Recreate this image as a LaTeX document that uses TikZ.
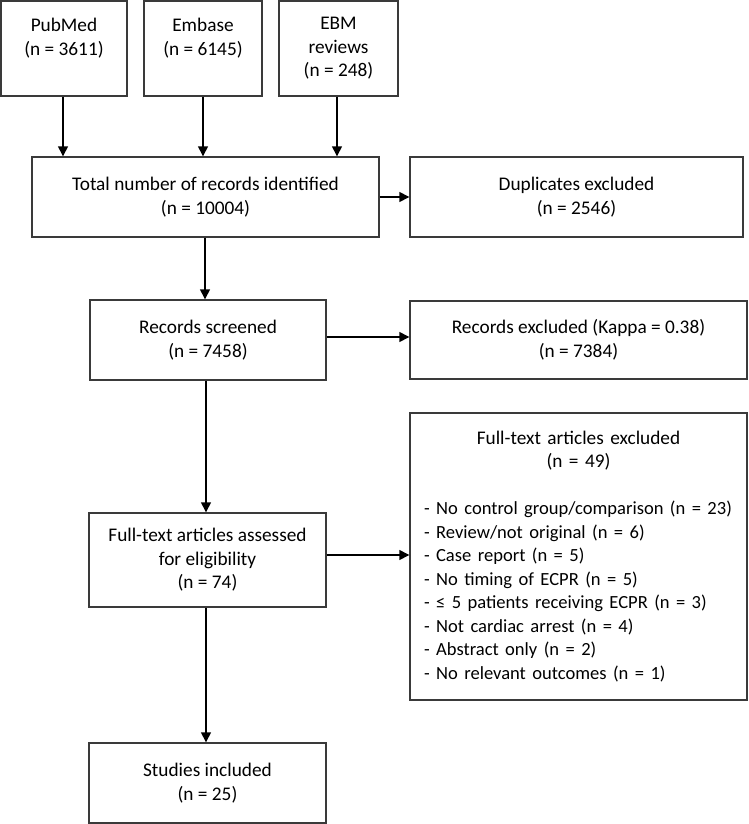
\documentclass[tikz,border=0pt]{standalone}
\usepackage{fontspec}
\setmainfont{Carlito}
\usetikzlibrary{arrows.meta}
\definecolor{boxline}{HTML}{3A3A3A}
\newcommand{\itemfont}{\fontsize{18.55}{23.5}\selectfont}
\begin{document}
\begin{tikzpicture}[x=1pt,y=-1pt,
  box/.style={draw=boxline,line width=1.4pt,inner sep=0pt,align=center,
    font=\fontsize{19.3}{23.5}\selectfont},
  conn/.style={draw=black,line width=1.4pt,-{Triangle[length=10pt,width=10pt]}}]
\useasboundingbox (0,0) rectangle (748,824);
\node[box,minimum width=126pt,minimum height=95pt] (pub) at (64,48.5) {PubMed\\(n = 3611)\\~};
\node[box,minimum width=118pt,minimum height=95pt] (emb) at (203,48.5) {Embase\\(n = 6145)\\~};
\node[box,minimum width=119pt,minimum height=95pt] (ebm) at (338.5,48.5) {EBM\\reviews\\(n = 248)};
\node[box,minimum width=347pt,minimum height=80pt] (tot) at (205.5,197) {Total number of records identified\\(n = 10004)};
\node[box,minimum width=333pt,minimum height=80pt] (dup) at (576.5,197) {Duplicates excluded\\(n = 2546)};
\node[box,minimum width=236pt,minimum height=80pt] (scr) at (208,340) {Records screened\\(n = 7458)};
\node[box,minimum width=337pt,minimum height=78pt] (rexc) at (578.5,340) {Records excluded (Kappa = 0.38)\\(n = 7384)};
\node[box,minimum width=237pt,minimum height=94pt] (ass) at (207.5,560) {Full-text articles assessed\\for eligibility\\(n = 74)};
\node[box,minimum width=337pt,minimum height=287pt,text width=309pt,align=left] (ftx) at (578.5,556.5) {%
\makebox[\linewidth][c]{Full-text articles excluded}\\
\makebox[\linewidth][c]{(n = 49)}\\
~\\
\mbox{\itemfont - No control group/comparison (n = 23)}\\
\mbox{\itemfont - Review/not original (n = 6)}\\
\mbox{\itemfont - Case report (n = 5)}\\
\mbox{\itemfont - No timing of ECPR (n = 5)}\\
\mbox{\itemfont - ≤ 5 patients receiving ECPR (n = 3)}\\
\mbox{\itemfont - Not cardiac arrest (n = 4)}\\
\mbox{\itemfont - Abstract only (n = 2)}\\
\mbox{\itemfont - No relevant outcomes (n = 1)}};
\node[box,minimum width=237pt,minimum height=80pt] (stu) at (207.5,783) {Studies included\\(n = 25)};
\draw[conn] ([xshift=-1pt]pub.south) -- ([xshift=-1pt]pub.south |- tot.north);
\draw[conn] (emb.south) -- (emb.south |- tot.north);
\draw[conn] ([xshift=-1.5pt]ebm.south) -- ([xshift=-1.5pt]ebm.south |- tot.north);
\draw[conn] (tot.east) -- (tot.east -| dup.west);
\draw[conn] ([xshift=-0.5pt]tot.south) -- ([xshift=-0.5pt]tot.south |- scr.north);
\draw[conn] ([yshift=3pt]scr.east) -- ([yshift=3pt]scr.east -| rexc.west);
\draw[conn] ([xshift=-2pt]scr.south) -- ([xshift=-2pt]scr.south |- ass.north);
\draw[conn] ([yshift=5pt]ass.east) -- ([yshift=5pt]ass.east -| ftx.west);
\draw[conn] ([xshift=-1.5pt]ass.south) -- ([xshift=-1.5pt]ass.south |- stu.north);
\end{tikzpicture}
\end{document}
